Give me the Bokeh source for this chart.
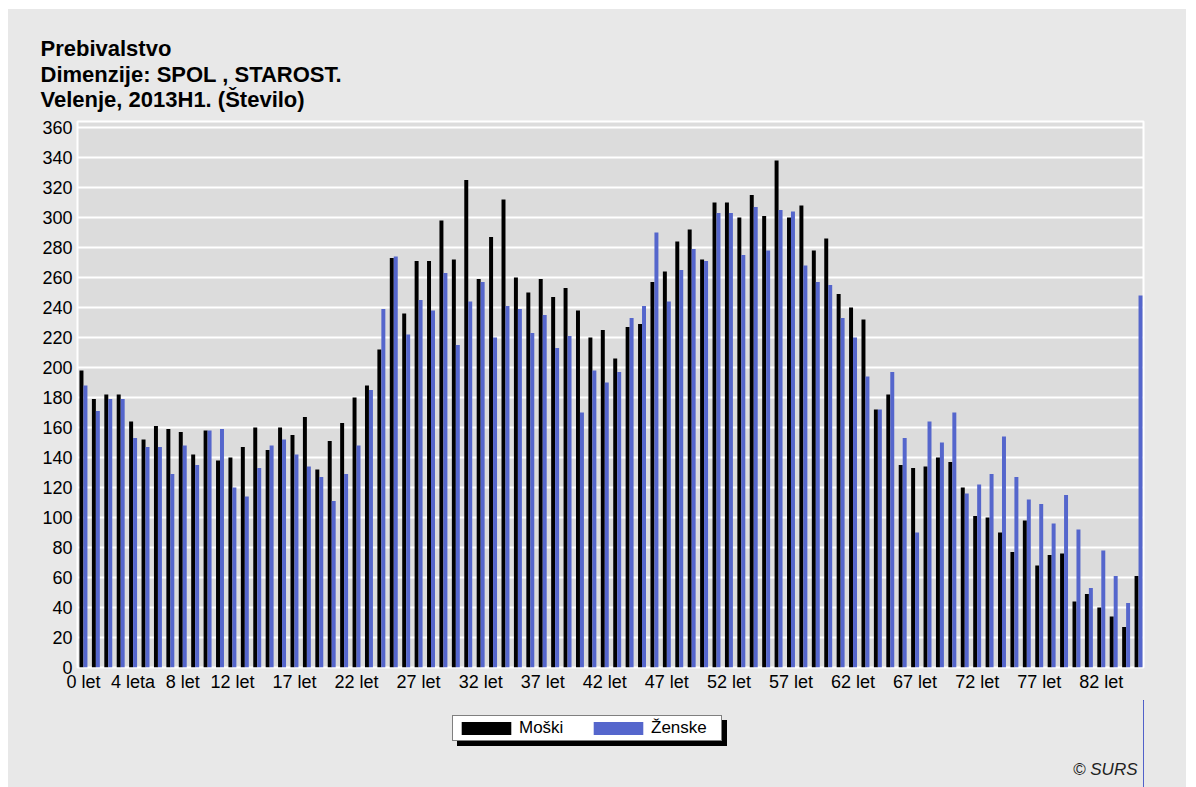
from bokeh.plotting import figure
from bokeh.models import (ColumnDataSource, Legend, LegendItem, Title, Label,
                          FixedTicker, Range1d)
from bokeh.transform import dodge
from bokeh.layouts import column
from bokeh.embed import file_html
from bokeh.resources import INLINE

# ---- data -------------------------------------------------------------
ages = list(range(86))
moski = [198, 179, 182, 182, 164, 152, 161, 159, 157, 142,
         158, 138, 140, 147, 160, 145, 160, 155, 167, 132,
         151, 163, 180, 188, 212, 273, 236, 271, 271, 298,
         272, 325, 259, 287, 312, 260, 250, 259, 247, 253,
         238, 220, 225, 206, 227, 229, 257, 264, 284, 292,
         272, 310, 310, 300, 315, 301, 338, 300, 308, 278,
         286, 249, 240, 232, 172, 182, 135, 133, 134, 140,
         137, 120, 101, 100, 90, 77, 98, 68, 75, 76,
         44, 49, 40, 34, 27, 61]
zenske = [188, 171, 179, 179, 153, 147, 147, 129, 148, 135,
          158, 159, 120, 114, 133, 148, 152, 142, 134, 127,
          111, 129, 148, 185, 239, 274, 222, 245, 238, 263,
          215, 244, 257, 220, 241, 239, 223, 235, 213, 221,
          170, 198, 190, 197, 233, 241, 290, 244, 265, 279,
          271, 303, 303, 275, 307, 278, 305, 304, 268, 257,
          255, 233, 220, 194, 172, 197, 153, 90, 164, 150,
          170, 116, 122, 129, 154, 127, 112, 109, 96, 115,
          92, 53, 78, 61, 43, 248]
tick_ages = [0, 4, 8, 12, 17, 22, 27, 32, 37, 42, 47, 52, 57, 62, 67, 72, 77, 82]
tick_labels = ["0 let", "4 leta", "8 let", "12 let", "17 let", "22 let",
               "27 let", "32 let", "37 let", "42 let", "47 let", "52 let",
               "57 let", "62 let", "67 let", "72 let", "77 let", "82 let"]
y_ticks = [0, 20, 40, 60, 80, 100, 120, 140, 160, 180, 200, 220, 240,
           260, 280, 300, 320, 340, 360]
series_names = ["Moški", "Ženske"]
title_lines = ["Prebivalstvo", "Dimenzije: SPOL , STAROST.",
               "Velenje, 2013H1. (Število)"]
credit = "© SURS"

src = ColumnDataSource(dict(age=ages, moski=moski, zenske=zenske))

FONT = "Liberation Sans"
BLUE = "#5566cc"
PANEL = "#e8e8e8"
W = 1178
BL, BR = 69, 43   # borders left / right of the plotting frame

# ---- main chart -------------------------------------------------------
p = figure(width=W, height=691, output_backend="svg", toolbar_location=None,
           x_range=Range1d(-0.48, 85.4), y_range=Range1d(0, 364),
           min_border_left=BL, min_border_right=BR, min_border_top=112,
           min_border_bottom=33)
p.background_fill_color = "#dcdcdc"
p.border_fill_color = PANEL
p.outline_line_color = "white"
p.outline_line_width = 2

rm = p.vbar(x=dodge("age", -0.16), top="moski", width=0.32, source=src,
            fill_color="black", line_color=None)
rf = p.vbar(x=dodge("age", 0.16), top="zenske", width=0.32, source=src,
            fill_color=BLUE, line_color=None)

p.xaxis.ticker = FixedTicker(ticks=tick_ages)
p.xaxis.major_label_overrides = {a: l for a, l in zip(tick_ages, tick_labels)}
p.yaxis.ticker = FixedTicker(ticks=y_ticks)
for ax in (p.xaxis[0], p.yaxis[0]):
    ax.axis_line_color = None
    ax.major_tick_line_color = None
    ax.minor_tick_line_color = None
    ax.major_label_text_font = FONT
    ax.major_label_text_font_size = "18px"
    ax.major_label_text_color = "black"
p.xaxis.major_label_standoff = -2
p.yaxis.major_label_standoff = -1
p.xgrid.grid_line_color = None
p.ygrid.grid_line_color = "white"
p.ygrid.grid_line_width = 2

# spacer between frame and title block, then the three title lines
p.add_layout(Title(text=" ", text_font=FONT, text_font_size="8px",
                   standoff=0), "above")
for txt, so in zip(reversed(title_lines), [-3, -1, -1]):
    p.add_layout(Title(text=txt, align="left", offset=-37, standoff=so,
                       text_font=FONT, text_font_size="22px",
                       text_font_style="bold", text_color="black"), "above")

# ---- legend / credit strip -------------------------------------------
p2 = figure(width=W, height=87, output_backend="svg", toolbar_location=None,
            x_range=Range1d(-300, -200), y_range=Range1d(0, 87),
            x_axis_location=None, y_axis_location=None,
            min_border_left=BL, min_border_right=BR, min_border_top=0,
            min_border_bottom=0)
p2.background_fill_alpha = 0
p2.border_fill_alpha = 0
p2.outline_line_color = None
p2.grid.grid_line_color = None

# same series styles with zero-width bars: only their legend swatches show
lm = p2.vbar(x="age", top="moski", width=0, source=src,
             fill_color="black", line_color=None)
lf = p2.vbar(x="age", top="zenske", width=0, source=src,
             fill_color=BLUE, line_color=None)

common = dict(orientation="horizontal", glyph_width=62, glyph_height=16,
              label_standoff=2, spacing=0, padding=2, margin=0,
              label_width=68, label_text_font=FONT,
              label_text_font_size="17px", border_line_width=1)
shadow = Legend(items=[LegendItem(label=series_names[0], renderers=[lm]),
                       LegendItem(label=series_names[1], renderers=[lf])],
                location=(380, 41), background_fill_color="black",
                background_fill_alpha=1, border_line_color="black",
                label_text_color="black", **common)
legend = Legend(items=[LegendItem(label=series_names[0], renderers=[lm]),
                       LegendItem(label=series_names[1], renderers=[lf])],
                location=(375, 46), background_fill_color="white",
                background_fill_alpha=1, border_line_color="black",
                label_text_color="black", **common)
p2.add_layout(shadow)
p2.add_layout(legend)

p2.add_layout(Label(x=1060, y=18, x_units="screen", y_units="screen",
                    text=credit, text_align="right",
                    text_baseline="alphabetic", text_font=FONT,
                    text_font_size="17px", text_font_style="italic",
                    text_color="#222222"))

layout = column(p, p2, spacing=0, margin=(9, 0, 0, 8),
                styles={"background-color": PANEL})
open("out.html", "w").write(file_html(layout, INLINE))
